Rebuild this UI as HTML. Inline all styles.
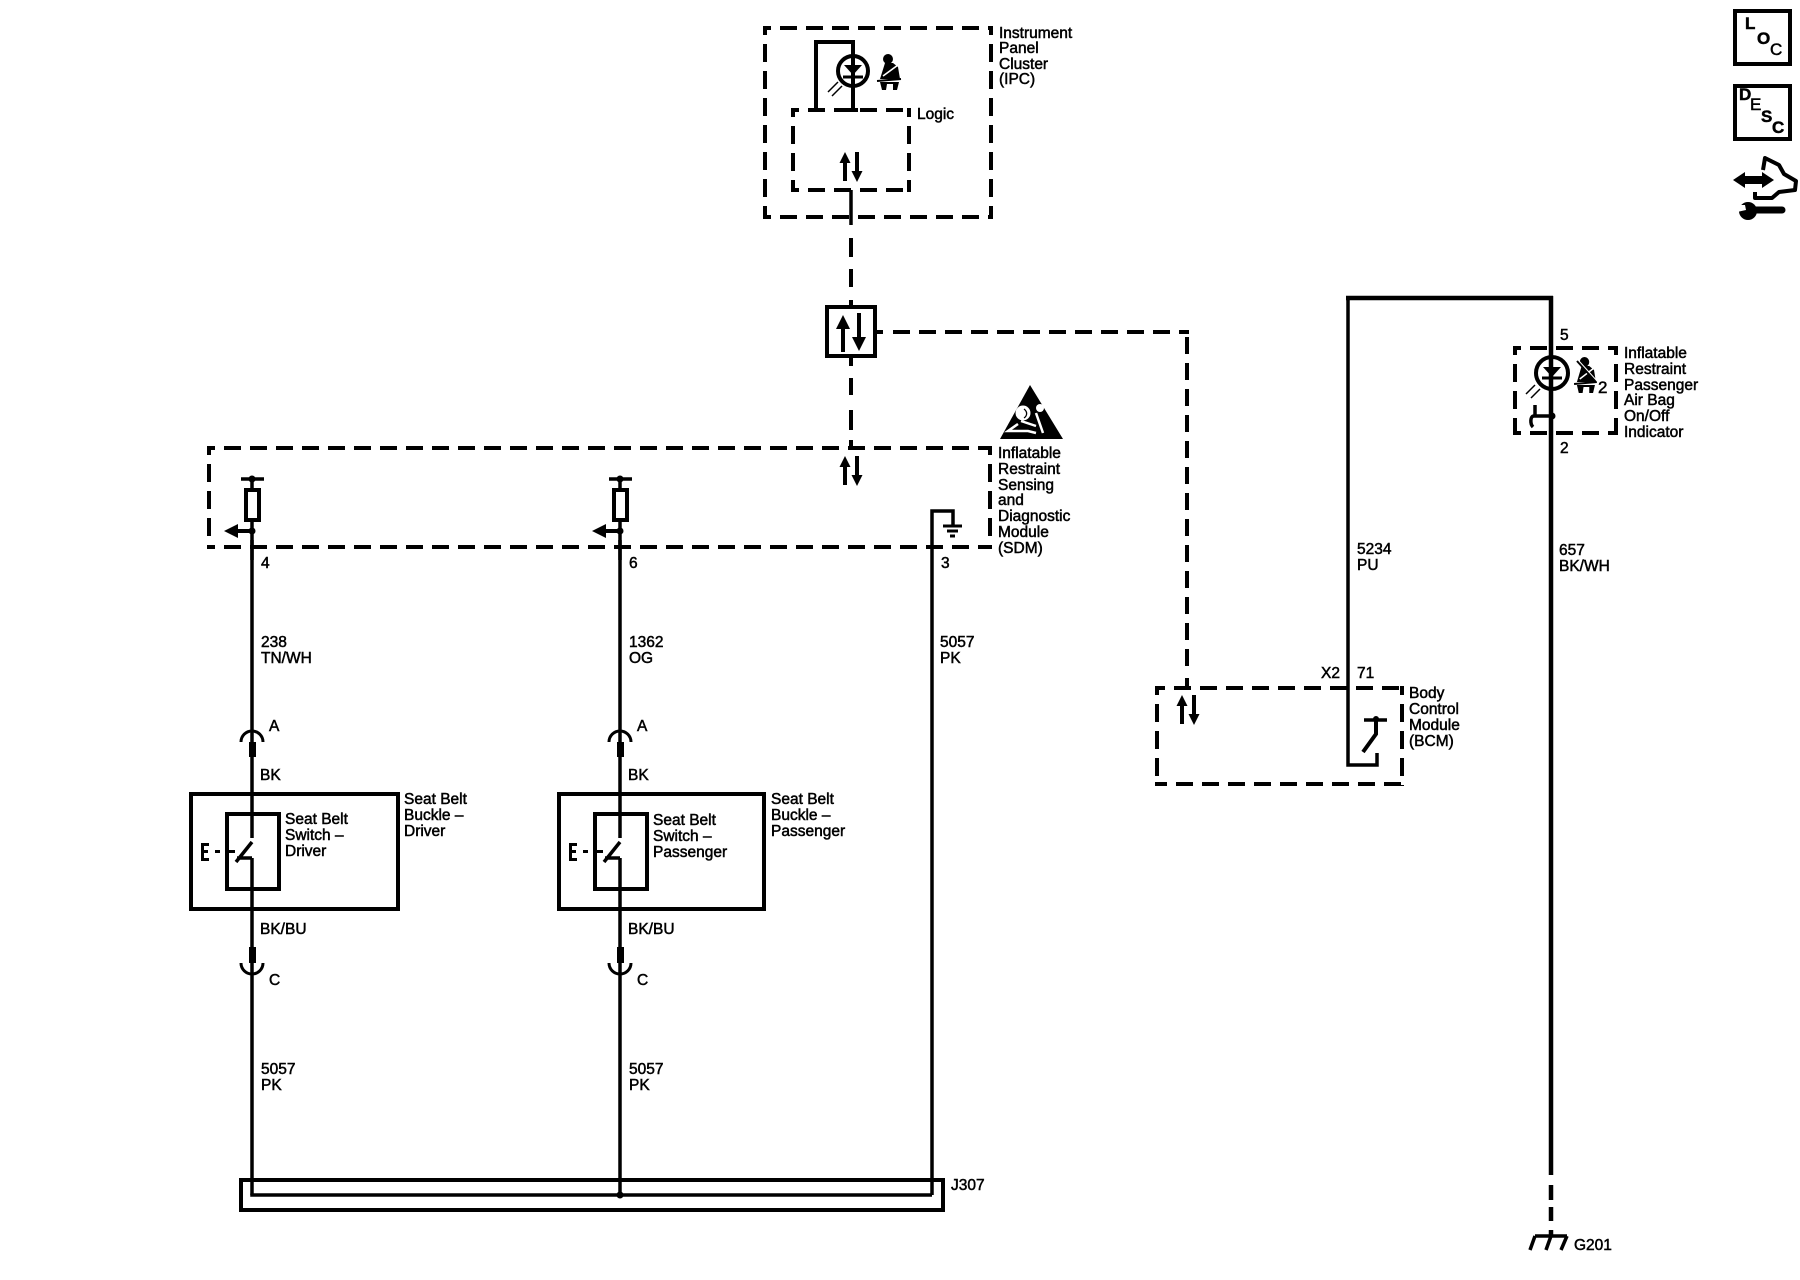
<!DOCTYPE html>
<html>
<head>
<meta charset="utf-8">
<style>
html,body{margin:0;padding:0;background:#fff}
svg{display:block}
text{font-family:"Liberation Sans",sans-serif;font-size:15.5px;fill:#000;stroke:#000;stroke-width:.5}
.w{stroke:#000;stroke-width:3.5;fill:none}
.t{stroke:#000;stroke-width:4.5;fill:none}
.b{stroke:#000;stroke-width:4;fill:none}
.d{stroke:#000;stroke-width:4;fill:none;stroke-dasharray:17 9;stroke-dashoffset:9}
.dv{stroke:#000;stroke-width:4;fill:none;stroke-dasharray:18 9;stroke-dashoffset:9}
.f{fill:#000;stroke:none}
.l{font-weight:bold;font-size:17px}
</style>
</head>
<body>
<svg width="1800" height="1280" viewBox="0 0 1800 1280" xmlns="http://www.w3.org/2000/svg">
<defs>
<g id="ud">
  <path class="w" d="M0 8V29M12 0V22" style="stroke-width:4"/>
  <path class="f" d="M0 0L-5.5 11H5.5ZM12 30L6.5 19H17.5Z"/>
</g>
<g id="belt">
  <circle class="f" cx="10" cy="6" r="5"/>
  <path class="f" d="M2 26L7 10H15L20 14L21 20L22 26Z"/>
  <path d="M5 23L20 12" stroke="#fff" stroke-width="1.6"/>
  <path d="M-1 28L23 26" stroke="#000" stroke-width="2"/>
  <path class="f" d="M2 29H21L19 37H15L15 31H9L8 37H4Z"/>
</g>
<g id="buckle">
  <rect class="b" x="227" y="814" width="52" height="75"/>
  <path class="w" d="M252 540V838M252 858V1195"/>
  <path class="w" d="M252 842L236 862M237 858H252"/>
  <path class="b" d="M241 742A11 11 0 0 1 263 742M241 963A11 11 0 0 0 263 963" style="stroke-width:3"/>
  <rect class="f" x="249" y="742" width="7" height="15"/>
  <rect class="f" x="249" y="947" width="7" height="16"/>
  <path class="f" d="M201 843H209V846H204V850H208V853H204V858H209V861H201ZM215 850H220V853H215ZM227 850H235V853H227Z"/>
</g>
<g id="fuse">
  <path class="w" d="M252 479V489M241 479H264"/>
  <circle class="f" cx="252" cy="479" r="3.5"/>
  <rect class="b" x="246" y="490" width="13" height="30"/>
  <path class="w" d="M252 520V560"/>
  <circle class="f" cx="252" cy="531" r="3.5"/>
  <path class="f" d="M224 531L238 524V529H252V533H238V538Z"/>
</g>
</defs>

<!-- IPC box -->
<path class="d" d="M763 28H993"/>
<path class="d" d="M763 217H993"/>
<path class="dv" d="M765 26V219"/>
<path class="dv" d="M991 26V219"/>
<!-- Logic box -->
<path class="d" d="M791 110H911"/>
<path class="d" d="M791 190H911"/>
<path class="dv" d="M793 108V192"/>
<path class="dv" d="M909 108V192"/>
<!-- IPC LED -->
<path class="b" d="M816 110V42H853V110"/>
<path class="b" d="M848 110H858"/>
<circle class="b" cx="853" cy="71" r="15"/>
<path class="f" d="M844 65H862L853 75Z"/>
<path class="b" d="M843 77H863" style="stroke-width:3"/>
<path stroke="#000" stroke-width="1.5" fill="none" d="M838 82L828 92M842 86L832 96"/>
<use href="#belt" x="878" y="53"/>
<use href="#ud" x="845" y="152"/>
<!-- vertical connector -->
<path class="w" d="M851 190V225"/>
<path class="b" d="M851 238V257M851 269V287M851 300V307M851 357V366M851 378V395M851 410V430M851 440V448"/>
<rect class="b" x="827" y="307" width="48" height="49"/>
<path class="w" d="M843 325V352M859 313V340" style="stroke-width:4"/>
<path class="f" d="M843 315L836 329H850ZM859 351L852 337H866Z"/>
<!-- right dashed -->
<path class="b" d="M877 332H883"/>
<path class="b" style="stroke-dasharray:17 9" d="M893 332H1189"/>
<path class="b" style="stroke-dasharray:17 9" d="M1187 666V332"/>
<path class="b" d="M1187 678V688"/>
<!-- SDM box -->
<path class="d" d="M207 448H992"/>
<path class="d" d="M207 547H992"/>
<path class="dv" d="M209 446V549"/>
<path class="dv" d="M990 446V549"/>
<use href="#ud" x="845" y="456"/>
<use href="#fuse"/>
<use href="#fuse" x="368"/>
<rect class="b" x="191" y="794" width="207" height="115"/>
<rect class="b" x="559" y="794" width="205" height="115"/>
<use href="#buckle"/>
<use href="#buckle" x="368"/>
<!-- SDM ground wire -->
<path class="w" d="M953 525V511H932V1195"/>
<path class="b" d="M943 526H962M947 531H958" style="stroke-width:3"/>
<path class="b" d="M950 536H955" style="stroke-width:3"/>
<!-- warning triangle -->
<path class="f" d="M1030 385L1000 439H1063Z"/>
<circle cx="1023" cy="413" r="7.5" fill="#fff"/>
<circle cx="1040" cy="408" r="4" fill="#fff"/>
<path fill="none" stroke="#fff" stroke-width="2.5" d="M1018 424L1008 431H1028L1036 433M1036 413L1043 433M1021 421L1036 426"/>
<path fill="none" stroke="#000" stroke-width="1.3" d="M1024 409C1028 412 1027 416 1024 418"/>
<!-- J307 -->
<rect class="b" x="241" y="1180" width="702" height="30"/>
<path class="w" d="M252 1193.5V1195H932"/>
<circle class="f" cx="620" cy="1195" r="3.5"/>
<!-- BCM -->
<path class="d" style="stroke-dashoffset:7" d="M1155 688H1404"/>
<path class="d" style="stroke-dashoffset:5" d="M1155 784H1404"/>
<path class="dv" d="M1157 686V786"/>
<path class="dv" d="M1402 686V786"/>
<use href="#ud" x="1182" y="695"/>
<path class="w" d="M1348 298V765H1377V753"/>
<path class="t" d="M1346 298H1553"/>
<path class="w" d="M1364 720H1387"/>
<circle class="f" cx="1376" cy="719" r="3"/>
<path class="b" d="M1376 720V734L1363 752"/>
<!-- passenger indicator -->
<path class="t" d="M1551 296V1175"/>
<path class="t" d="M1551 1185V1200M1551 1207V1221M1551 1230V1236"/>
<path class="d" d="M1513 348H1618"/>
<path class="d" d="M1513 433H1618"/>
<path class="dv" d="M1515 346V435"/>
<path class="dv" d="M1616 346V435"/>
<circle cx="1552" cy="373" r="16" fill="#fff" stroke="#000" stroke-width="4"/>
<path class="w" d="M1551 358V390" style="stroke-width:4.5"/>
<path class="f" d="M1543 367H1561L1552 377Z"/>
<path class="b" d="M1542 378H1562" style="stroke-width:3"/>
<path stroke="#000" stroke-width="1.5" fill="none" d="M1535 385L1526 394M1540 389L1531 398"/>
<circle class="f" cx="1552" cy="416" r="3.5"/>
<path class="b" d="M1552 416H1534C1530 416 1530 424 1533 427M1535 405V416" style="stroke-width:3.5"/>
<use href="#belt" transform="translate(1575 356) scale(.95 1)"/>
<path stroke="#000" stroke-width="2" d="M1577 361L1596 382"/>
<path stroke="#fff" stroke-width="1" d="M1579 361L1598 382"/>
<!-- G201 -->
<path class="b" d="M1535 1236H1567" style="stroke-width:3.5"/>
<path class="b" d="M1535 1236L1530 1250M1551 1236L1546 1250M1567 1236L1561 1250" style="stroke-width:3.5"/>
<!-- right icons -->
<rect class="b" x="1735" y="11" width="55" height="53"/>
<rect class="b" x="1735" y="86" width="55" height="53"/>
<path class="f" d="M1733 180L1745 172V176H1762V172L1774 180L1762 188V184H1745V188Z"/>
<path fill="none" stroke="#000" stroke-width="4" stroke-linejoin="round" d="M1763 170L1765 158L1779 165L1784 174L1796 181L1795 190L1779 192L1772 198H1755V192"/>
<path stroke="#000" stroke-width="7" stroke-linecap="round" d="M1752 210H1782"/>
<circle class="f" cx="1748" cy="211" r="9"/>
<path fill="#fff" d="M1737 205H1745L1746 210L1737 212Z"/>

<text class="l" x="1745" y="29">L</text>
<text class="l" x="1757" y="44">O</text>
<text class="l" x="1770" y="55" style="font-weight:normal">C</text>
<text class="l" x="1739" y="100">D</text>
<text class="l" x="1750" y="110" style="font-weight:normal">E</text>
<text class="l" x="1761" y="122">S</text>
<text class="l" x="1772" y="133">C</text>

<text x="999" y="38">Instrument</text>
<text x="999" y="53">Panel</text>
<text x="999" y="69">Cluster</text>
<text x="999" y="84">(IPC)</text>
<text x="917" y="119">Logic</text>

<text x="998" y="458">Inflatable</text>
<text x="998" y="474">Restraint</text>
<text x="998" y="490">Sensing</text>
<text x="998" y="505">and</text>
<text x="998" y="521">Diagnostic</text>
<text x="998" y="537">Module</text>
<text x="998" y="553">(SDM)</text>

<text x="261" y="568">4</text>
<text x="629" y="568">6</text>
<text x="941" y="568">3</text>
<text x="261" y="647">238</text>
<text x="261" y="663">TN/WH</text>
<text x="629" y="647">1362</text>
<text x="629" y="663">OG</text>
<text x="940" y="647">5057</text>
<text x="940" y="663">PK</text>

<text x="269" y="731">A</text>
<text x="637" y="731">A</text>
<text x="260" y="780">BK</text>
<text x="628" y="780">BK</text>
<text x="285" y="824">Seat Belt</text>
<text x="285" y="840">Switch –</text>
<text x="285" y="856">Driver</text>
<text x="653" y="825">Seat Belt</text>
<text x="653" y="841">Switch –</text>
<text x="653" y="857">Passenger</text>
<text x="404" y="804">Seat Belt</text>
<text x="404" y="820">Buckle –</text>
<text x="404" y="836">Driver</text>
<text x="771" y="804">Seat Belt</text>
<text x="771" y="820">Buckle –</text>
<text x="771" y="836">Passenger</text>
<text x="260" y="934">BK/BU</text>
<text x="628" y="934">BK/BU</text>
<text x="269" y="985">C</text>
<text x="637" y="985">C</text>
<text x="261" y="1074">5057</text>
<text x="261" y="1090">PK</text>
<text x="629" y="1074">5057</text>
<text x="629" y="1090">PK</text>
<text x="951" y="1190">J307</text>

<text x="1357" y="554">5234</text>
<text x="1357" y="570">PU</text>
<text x="1559" y="555">657</text>
<text x="1559" y="571">BK/WH</text>
<text x="1321" y="678">X2</text>
<text x="1357" y="678">71</text>
<text x="1409" y="698">Body</text>
<text x="1409" y="714">Control</text>
<text x="1409" y="730">Module</text>
<text x="1409" y="746">(BCM)</text>

<text x="1560" y="340">5</text>
<text x="1560" y="453">2</text>
<text x="1598" y="393" style="font-size:17px">2</text>
<text x="1624" y="358">Inflatable</text>
<text x="1624" y="374">Restraint</text>
<text x="1624" y="390">Passenger</text>
<text x="1624" y="405">Air Bag</text>
<text x="1624" y="421">On/Off</text>
<text x="1624" y="437">Indicator</text>
<text x="1574" y="1250">G201</text>
</svg>
</body>
</html>
